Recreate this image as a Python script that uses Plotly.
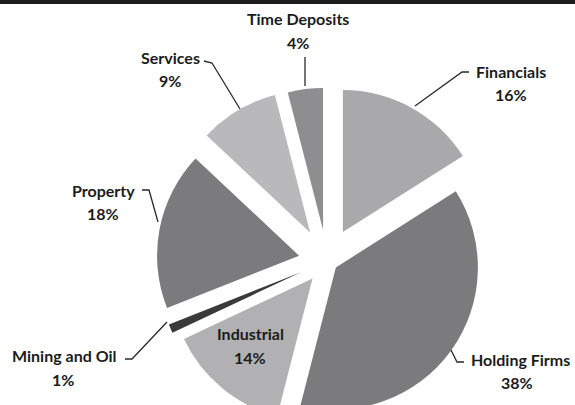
import plotly.graph_objects as go

# ---- data ----
categories = ["Financials", "Holding Firms", "Industrial", "Mining and Oil",
              "Property", "Services", "Time Deposits"]
values = [16, 38, 14, 1, 18, 9, 4]
pulls = [0.232, 0.077, 0.16, 0.2, 0.2, 0.232, 0.22]
colors = ["#a9a9ab", "#7b7b7d", "#b1b1b3", "#3a3a3a", "#7b7b7d", "#b9b9bb", "#8e8e90"]

W, H = 575, 460  # figure is taller than the window; bottom gets cropped like the reference


def px(x):
    return x / W


def py(y):
    return 1 - y / H


# pie placement (pixel centre and box size)
cx, cy, box = 327, 261, 350

fig = go.Figure(go.Pie(
    labels=categories,
    values=values,
    pull=pulls,
    sort=False,
    direction="clockwise",
    rotation=0,
    textinfo="none",
    hoverinfo="label+percent",
    marker=dict(colors=colors, line=dict(width=0)),
    domain=dict(x=[px(cx - box / 2), px(cx + box / 2)],
                y=[py(cy + box / 2), py(cy - box / 2)]),
    showlegend=False,
))

# label positions (name centre, percent centre) in pixels
label_pos = {
    "Financials": ((511, 71), (511, 94)),
    "Holding Firms": ((520, 359), (517, 382)),
    "Industrial": ((250, 333), (250, 357)),
    "Mining and Oil": ((64, 355), (63, 379)),
    "Property": ((103, 190), (103, 213)),
    "Services": ((170, 57), (170, 81)),
    "Time Deposits": ((298, 18), (298, 42)),
}
leaders = {
    "Financials": [(469, 72), (462, 72), (415, 106)],
    "Holding Firms": [(464, 362), (457, 362), (451, 350)],
    "Mining and Oil": [(125, 359), (132, 359), (167, 322)],
    "Property": [(142, 190), (149, 190), (158, 222)],
    "Services": [(204, 61), (212, 63), (240, 109)],
    "Time Deposits": [(305, 57), (305, 86)],
}

font = dict(family="Lato, 'Open Sans', sans-serif", size=16, color="#1c1c1c")
annotations = []
for cat, v in zip(categories, values):
    (nx, ny), (vx, vy) = label_pos[cat]
    annotations.append(dict(x=px(nx), y=py(ny), xref="paper", yref="paper",
                            text=f"<b>{cat}</b>", showarrow=False, font=font,
                            xanchor="center", yanchor="middle"))
    annotations.append(dict(x=px(vx), y=py(vy), xref="paper", yref="paper",
                            text=f"<b>{v}%</b>", showarrow=False, font=font,
                            xanchor="center", yanchor="middle"))

shapes = [dict(type="rect", xref="paper", yref="paper", x0=0, x1=1,
               y0=py(4), y1=1, fillcolor="#1e1e1e", line=dict(width=0), layer="above")]
for cat, pts in leaders.items():
    path = "M " + " L ".join(f"{px(x)},{py(y)}" for x, y in pts)
    shapes.append(dict(type="path", xref="paper", yref="paper", path=path,
                       line=dict(color="#2a2a2a", width=1.3)))

fig.update_layout(
    width=W, height=H,
    margin=dict(l=0, r=0, t=0, b=0),
    paper_bgcolor="white",
    plot_bgcolor="white",
    annotations=annotations,
    shapes=shapes,
)

post = ("var gd=document.getElementById('{plot_id}');"
        "document.body.style.margin='0';"
        "document.body.style.overflow='hidden';"
        "document.documentElement.style.overflow='hidden';"
        "gd.parentElement.style.height='405px';"
        "gd.parentElement.style.overflow='hidden';")

fig.write_html("out.html", post_script=post, config={"displayModeBar": False})
